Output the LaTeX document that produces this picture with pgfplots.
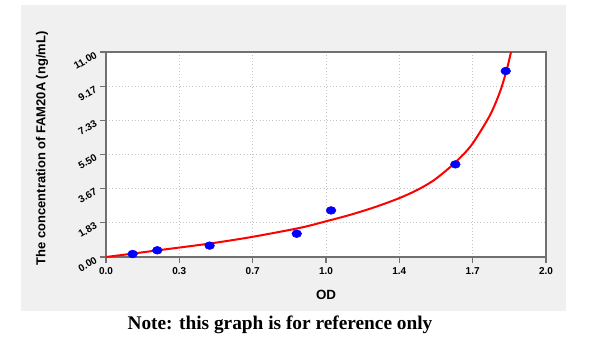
\documentclass[border=0pt]{standalone}
\usepackage{pgfplots}
\pgfplotsset{compat=1.18}
\usepackage{fontspec}
\setmainfont{Liberation Sans}
\newfontfamily\notefont{Liberation Serif}
\definecolor{panelgrey}{HTML}{F0F0F0}
\definecolor{framegrey}{HTML}{707070}
\definecolor{gridgrey}{HTML}{C4C4C4}
\begin{document}
\begin{tikzpicture}
\useasboundingbox (0,0) rectangle (450pt,263.25pt);
\fill[white] (0,0) rectangle (450pt,263.25pt);
\fill[panelgrey] (15.75pt,30pt) rectangle (424.5pt,259.5pt);
\begin{axis}[
  at={(79.5pt,70.5pt)}, anchor=south west,
  scale only axis, width=330pt, height=153.75pt,
  xmin=0, xmax=2, ymin=0, ymax=11,
  axis background/.style={fill=white},
  axis line style={framegrey, line width=1.2pt},
  tick style={framegrey, line width=0.8pt},
  tick align=outside,
  xtick pos=bottom, ytick pos=left,
  major tick length=4.5pt, minor tick length=3pt,
  minor tick num=3,
  xtick={0,0.33333,0.66667,1,1.33333,1.66667,2},
  xticklabels={0.0,0.3,0.7,1.0,1.4,1.7,2.0},
  ytick={0,1.83333,3.66667,5.5,7.33333,9.16667,11},
  yticklabels={0.00,1.83,3.67,5.50,7.33,9.17,11.00},
  ticklabel style={font=\fontsize{7.5}{8}\selectfont\bfseries},
  yticklabel style={rotate=30, anchor=east},
  xmajorgrids, ymajorgrids,
  major grid style={gridgrey, dotted, line width=0.6pt},
  xlabel={OD}, ylabel={The concentration of FAM20A (ng/mL)},
  every axis x label/.style={at={(axis description cs:0.5,0)}, yshift=-28.5pt, anchor=center, font=\fontsize{10}{12}\selectfont\bfseries},
  every axis y label/.style={at={(axis description cs:0,0.53)}, xshift=-48pt, rotate=90, anchor=center, font=\fontsize{9.7}{11}\selectfont\bfseries},
  clip=true,
]
\addplot[red, line width=1.5pt, smooth, tension=0.5, no markers] coordinates {
(0.0,0.0) (0.12,0.18) (0.23,0.35) (0.47,0.72) (0.66,1.07) (0.88,1.56)
(0.995,1.90) (1.109,2.26) (1.223,2.68) (1.329,3.14) (1.412,3.58) (1.488,4.10)
(1.56,4.78) (1.624,5.50) (1.670,6.15) (1.745,7.60) (1.791,8.87)
(1.821,10.03) (1.845,11.2)
};
\addplot[only marks, mark=*, mark size=2.9pt, color=blue, mark options={xscale=1.25, fill=blue, draw=blue}] coordinates {
(0.121,0.16) (0.233,0.36) (0.471,0.61) (0.867,1.25) (1.023,2.50) (1.588,4.97) (1.817,9.98)
};
\end{axis}
\node[font=\notefont\fontsize{14.5}{16}\selectfont\bfseries] at (210pt,19.5pt) {Note: this graph is for reference only};
\end{tikzpicture}
\end{document}
